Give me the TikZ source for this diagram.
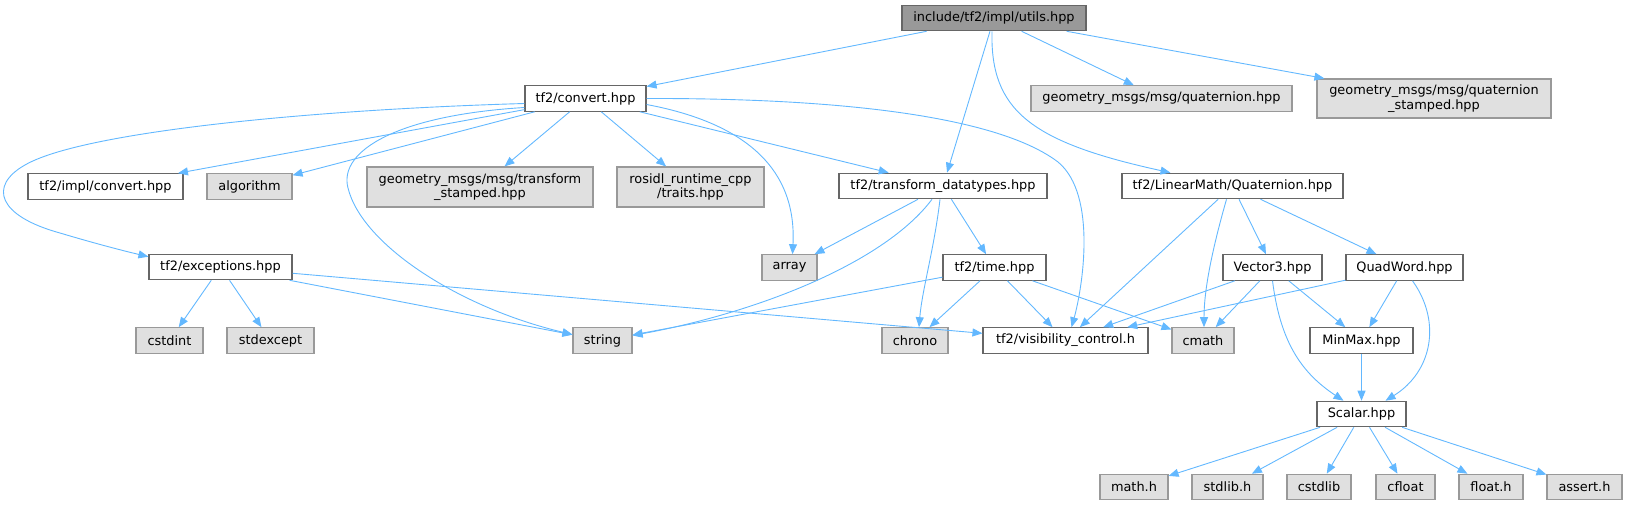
\documentclass[tikz,border=0pt]{standalone}
\usepackage{fontspec}
\setmainfont{DejaVu Sans}
\usetikzlibrary{arrows.meta}
\definecolor{edgec}{HTML}{63B8FF}
\definecolor{rootfill}{HTML}{999999}
\definecolor{rootdraw}{HTML}{666666}
\definecolor{grayfill}{HTML}{E0E0E0}
\definecolor{graydraw}{HTML}{999999}
\definecolor{whitedraw}{HTML}{666666}
\begin{document}
\begin{tikzpicture}[x=1pt,y=-1pt,
  box/.style={draw=whitedraw,fill=white,line width=1.1pt,inner sep=0pt,minimum height=25.5pt,align=center,
    font=\fontsize{12.9}{14.3}\selectfont},
  graybox/.style={box,draw=graydraw,fill=grayfill},
  rootbox/.style={box,draw=rootdraw,fill=rootfill},
  dep/.style={draw=edgec,line width=0.9pt,-{Triangle[length=10pt,width=8pt]}}]
\useasboundingbox (0,0) rectangle (1627,505);

% row 0
\node[rootbox,minimum width=184pt] (utils) at (994,18) {include/tf2/impl/utils.hpp};
% row 1
\node[box,minimum width=121pt] (conv) at (585.5,98.5) {tf2/convert.hpp};
\node[graybox,minimum width=261pt] (gmq) at (1161.5,98.5) {geometry\_msgs/msg/quaternion.hpp};
\node[graybox,minimum width=234pt,minimum height=39pt] (gmqs) at (1434,98.5) {geometry\_msgs/msg/quaternion\\\_stamped.hpp};
% row 2
\node[box,minimum width=155pt] (implconv) at (105.5,186.5) {tf2/impl/convert.hpp};
\node[graybox,minimum width=85pt] (algo) at (249.5,186.5) {algorithm};
\node[graybox,minimum width=226pt,minimum height=40pt] (gmts) at (480,187) {geometry\_msgs/msg/transform\\\_stamped.hpp};
\node[graybox,minimum width=147pt,minimum height=40pt] (rosidl) at (690.5,187) {rosidl\_runtime\_cpp\\/traits.hpp};
\node[box,minimum width=208pt] (td) at (943,186) {tf2/transform\_datatypes.hpp};
\node[box,minimum width=221pt] (lmq) at (1232.5,186) {tf2/LinearMath/Quaternion.hpp};
% row 3
\node[box,minimum width=143pt] (exc) at (220.5,267) {tf2/exceptions.hpp};
\node[graybox,minimum width=55pt] (arr) at (789.5,267.5) {array};
\node[box,minimum width=103pt] (time) at (994.5,267.5) {tf2/time.hpp};
\node[box,minimum width=99pt] (v3) at (1272.5,267.5) {Vector3.hpp};
\node[box,minimum width=117pt] (qw) at (1404.5,267.5) {QuadWord.hpp};
% row 4
\node[graybox,minimum width=67pt] (cstdint) at (169.5,340.5) {cstdint};
\node[graybox,minimum width=87pt] (stdexc) at (270.5,340.5) {stdexcept};
\node[graybox,minimum width=59pt] (str) at (602.5,340.5) {string};
\node[graybox,minimum width=66pt] (chrono) at (915,340.5) {chrono};
\node[box,minimum width=165pt] (vis) at (1065.5,340.5) {tf2/visibility\_control.h};
\node[graybox,minimum width=62pt] (cmath) at (1203,340.5) {cmath};
\node[box,minimum width=103pt] (minmax) at (1361.5,340.5) {MinMax.hpp};
% row 5
\node[box,minimum width=89pt] (scalar) at (1361.5,414) {Scalar.hpp};
% row 6
\node[graybox,minimum width=68pt] (mathh) at (1134,487) {math.h};
\node[graybox,minimum width=71pt] (stdlibh) at (1227.5,487) {stdlib.h};
\node[graybox,minimum width=64pt] (cstdlib) at (1319,487) {cstdlib};
\node[graybox,minimum width=59pt] (cfloat) at (1405.5,487) {cfloat};
\node[graybox,minimum width=64pt] (floath) at (1491,487) {float.h};
\node[graybox,minimum width=75pt] (asserth) at (1584.5,487) {assert.h};

% utils edges
\draw[dep] (utils) -- (conv);
\draw[dep] (utils) -- (td);
\draw[dep] (utils) -- (gmq);
\draw[dep] (utils) -- (gmqs);
\draw[dep] ([xshift=-2pt]utils.south) .. controls (990,110) and (1030,142) .. ([xshift=-62pt]lmq.north);

% convert edges
\draw[dep] (conv) -- (implconv);
\draw[dep] (conv) -- (algo);
\draw[dep] (conv) -- (gmts);
\draw[dep] (conv) -- (rosidl);
\draw[dep] (conv) -- (td);
\draw[dep] ([yshift=-5pt]conv.west) .. controls (300,110) and (80,133) .. (25,165)
  .. controls (-12,186) and (-2,216) .. (60,233) .. controls (90,242) and (120,250) .. ([yshift=-3pt]exc.north west);
\draw[dep] ([yshift=-9pt]conv.west) .. controls (400,115) and (338,150) .. (348,188)
  .. controls (362,245) and (460,308) .. ([yshift=6pt]str.west);
\draw[dep] ([yshift=-6pt]conv.east) .. controls (740,122) and (797,165) .. ([xshift=3pt]arr.north);
\draw[dep] (conv.east) .. controls (850,98) and (1000,118) .. (1058,162)
  .. controls (1098,195) and (1082,290) .. ([xshift=6pt]vis.north);

% transform_datatypes edges
\draw[dep] (td) -- (arr);
\draw[dep] ([xshift=-11pt]td.south) .. controls (885,262) and (760,312) .. ([yshift=5pt]str.east);
\draw[dep] ([xshift=-3pt]td.south) .. controls (934,250) and (922,290) .. ([xshift=4pt]chrono.north);
\draw[dep] (td) -- (time);

% time edges
\draw[dep] (time) -- (str);
\draw[dep] (time) -- (chrono);
\draw[dep] (time) -- (vis);
\draw[dep] (time) -- (cmath);

% exceptions edges
\draw[dep] (exc) -- (cstdint);
\draw[dep] (exc) -- (stdexc);
\draw[dep] (exc) -- (str);
\draw[dep] (exc) -- (vis);

% LinearMath edges
\draw[dep] (lmq) -- (vis);
\draw[dep] ([xshift=-6pt]lmq.south) .. controls (1212,250) and (1204,290) .. ([xshift=1pt]cmath.north);
\draw[dep] (lmq) -- (v3);
\draw[dep] (lmq) -- (qw);

% Vector3 edges
\draw[dep] (v3) -- (vis);
\draw[dep] (v3) -- (cmath);
\draw[dep] (v3) -- (minmax);
\draw[dep] (v3.south) .. controls (1280,340) and (1300,372) .. ([xshift=-18pt]scalar.north);

% QuadWord edges
\draw[dep] (qw) -- (vis);
\draw[dep] (qw) -- (minmax);
\draw[dep] ([xshift=8pt]qw.south) .. controls (1442,322) and (1432,372) .. ([xshift=24pt]scalar.north);

% MinMax, Scalar
\draw[dep] (minmax) -- (scalar);
\draw[dep] (scalar) -- (mathh);
\draw[dep] (scalar) -- (stdlibh);
\draw[dep] (scalar) -- (cstdlib);
\draw[dep] (scalar) -- (cfloat);
\draw[dep] (scalar) -- (floath);
\draw[dep] (scalar) -- (asserth);
\end{tikzpicture}
\end{document}
